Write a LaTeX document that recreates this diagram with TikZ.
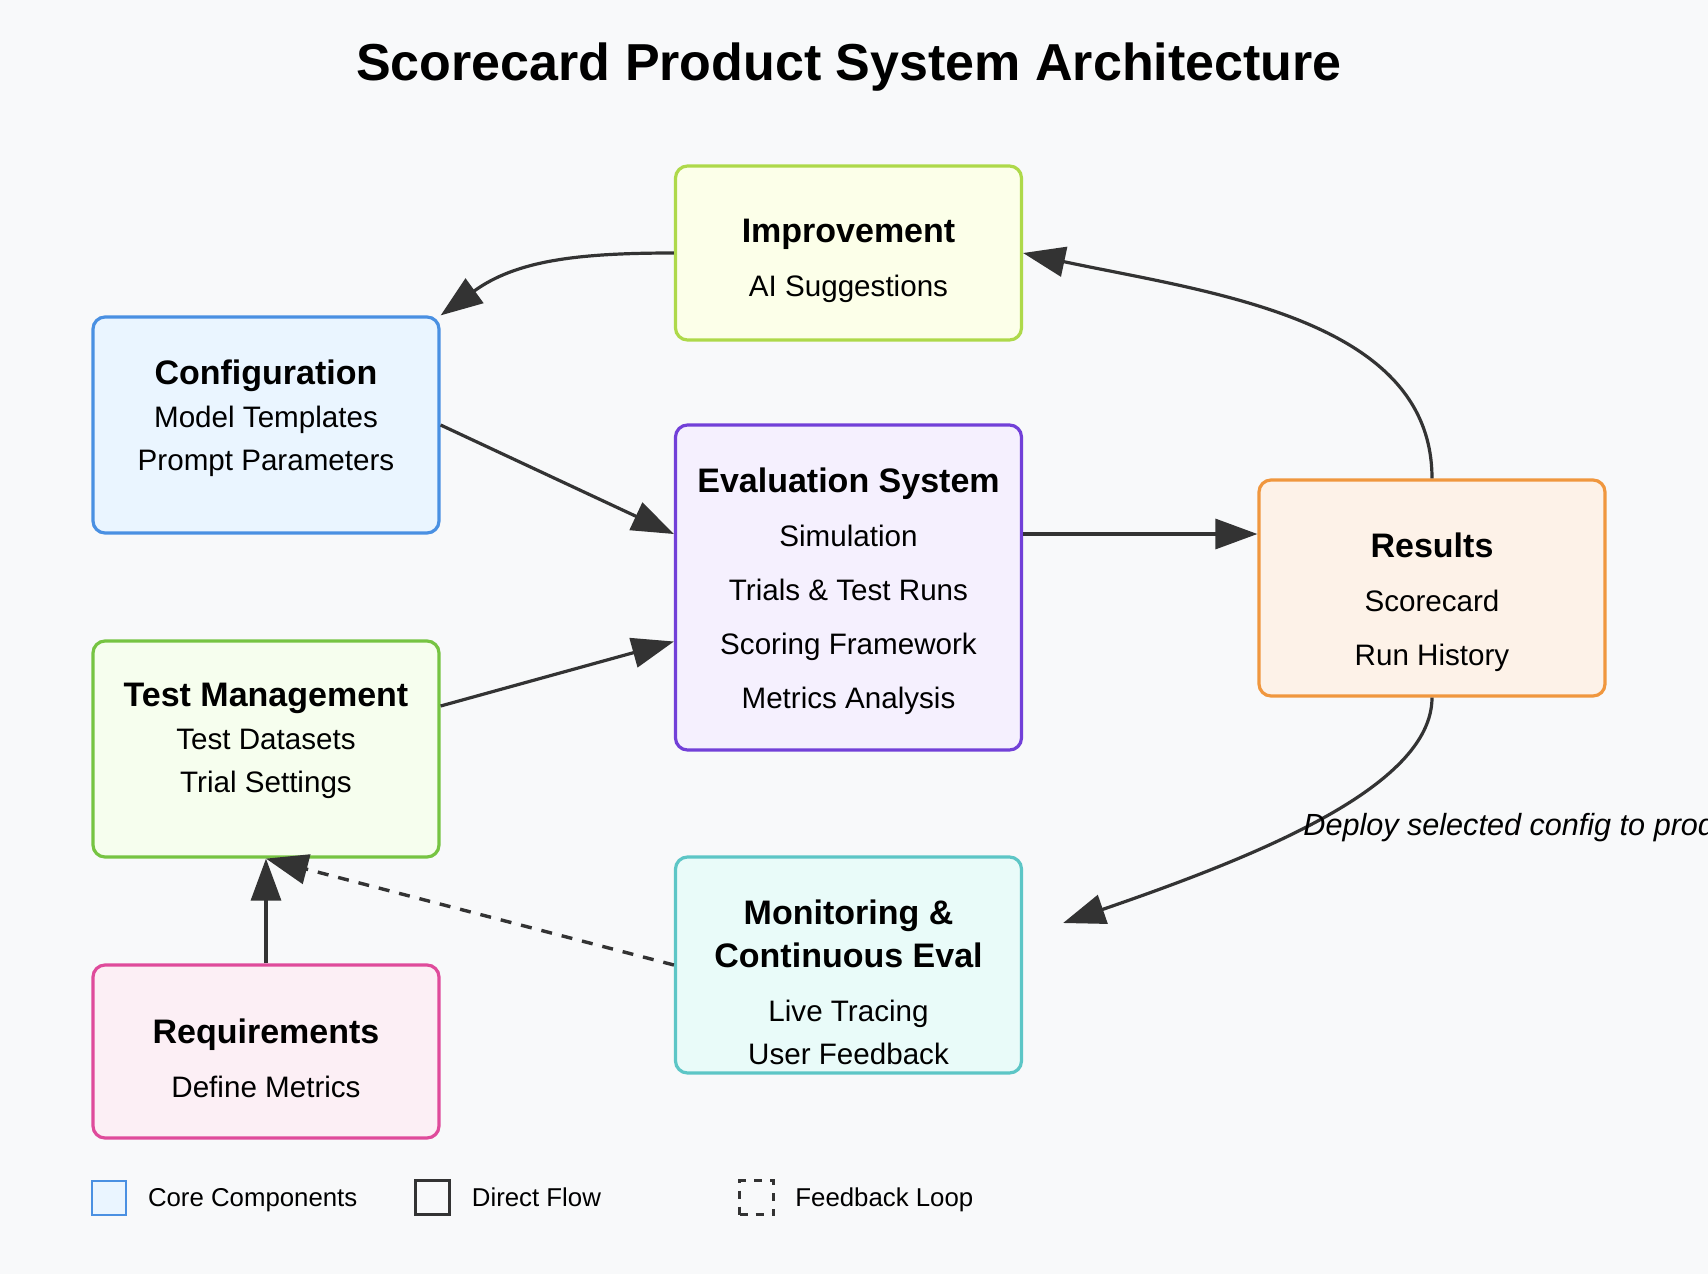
\documentclass[tikz,border=0pt]{standalone}
\usepackage{fontspec}
\setmainfont{Liberation Sans}
\usetikzlibrary{arrows.meta}

\definecolor{bgc}{HTML}{F8F9FA}
\definecolor{linec}{HTML}{333333}
\definecolor{cfgline}{HTML}{4A90E2}  \definecolor{cfgfill}{HTML}{EAF5FF}
\definecolor{imprline}{HTML}{AED94A} \definecolor{imprfill}{HTML}{FCFFE9}
\definecolor{evalline}{HTML}{7240D8} \definecolor{evalfill}{HTML}{F5F0FE}
\definecolor{resline}{HTML}{F0973E}  \definecolor{resfill}{HTML}{FDF2E8}
\definecolor{testline}{HTML}{76C442} \definecolor{testfill}{HTML}{F6FEEE}
\definecolor{monline}{HTML}{5DC6C6}  \definecolor{monfill}{HTML}{E9FBF9}
\definecolor{reqline}{HTML}{DF4B9B}  \definecolor{reqfill}{HTML}{FCEFF5}

\newcommand{\boxhead}[1]{{\bfseries\fontsize{17}{21.5}\selectfont #1}}

\tikzset{
  compbox/.style={draw=#1line, fill=#1fill, line width=1.6pt, rounded corners=6pt,
    minimum width=173pt, inner sep=0pt},
  boxtxt/.style={align=center, inner sep=0pt, anchor=north,
    font=\fontsize{14.8}{21.5}\selectfont},
  flow/.style={draw=linec, line width=1.6pt, -{Triangle[length=21pt,width=15pt]}},
  fback/.style={flow, line width=1.7pt, dash pattern=on 5.5pt off 5pt},
  legtxt/.style={anchor=base west, inner sep=0pt, font=\fontsize{12.9}{15}\selectfont},
}

\begin{document}
\begin{tikzpicture}[x=0.5pt, y=-0.5pt]
    % page and background
    \clip (0,0) rectangle (1708,1274);
    \fill[bgc] (0,0) rectangle (1708,1274);

    % Title
    \node[anchor=base, font=\bfseries\fontsize{26}{30}\selectfont] (title) at (849,80)
        {Scorecard Product System Architecture};

    % Components
    \node[compbox=impr, minimum height=87pt] (impr) at (848.5,253) {};
    \node[boxtxt] (impr-t) at (848.5,219) {\boxhead{Improvement}\\[5.5pt] AI Suggestions};

    \node[compbox=cfg, minimum height=108pt] (cfg) at (266,425) {};
    \node[boxtxt] (cfg-t) at (266,359) {\boxhead{Configuration}\\ Model Templates\\ Prompt Parameters};

    \node[compbox=eval, minimum height=162.5pt] (eval) at (848.5,587.5) {};
    \node[boxtxt] (eval-t) at (848.5,467) {\boxhead{Evaluation System}\\[5.5pt] Simulation\\[5.5pt]
        Trials \& Test Runs\\[5.5pt] Scoring Framework\\[5.5pt] Metrics Analysis};

    \node[compbox=res, minimum height=108pt] (res) at (1432,588) {};
    \node[boxtxt] (res-t) at (1432,532) {\boxhead{Results}\\[5.5pt] Scorecard\\[5.5pt] Run History};

    \node[compbox=test, minimum height=108pt] (test) at (266,749) {};
    \node[boxtxt] (test-t) at (266,683) {\boxhead{Test Management}\\ Test Datasets\\ Trial Settings};

    \node[compbox=mon, minimum height=108pt] (mon) at (848.5,965) {};
    \node[boxtxt] (mon-t) at (848.5,899) {\boxhead{Monitoring \&}\\ \boxhead{Continuous Eval}\\[5.5pt]
        Live Tracing\\ User Feedback};

    \node[compbox=req, minimum height=86.5pt] (req) at (266,1051.5) {};
    \node[boxtxt] (req-t) at (266,1018) {\boxhead{Requirements}\\[5.5pt] Define Metrics};

    % Direct flow
    \draw[flow] (impr.west) to[out=180, in=36] (cfg.north east);
    \draw[flow] (cfg.east) -- ([yshift=26.75pt]eval.west);
    \draw[flow] ([yshift=21.5pt]test.east) -- ([yshift=-27pt]eval.west);
    \draw[flow] ([yshift=26.75pt]eval.east) -- ([yshift=27pt]res.west);
    \draw[flow] (res.north) to[out=90, in=-12, out distance=80pt, in distance=95pt] (impr.east);
    \draw[flow] (res.south) to[out=-90, in=19, out distance=45pt, in distance=100pt]
        ([xshift=20pt,yshift=21pt]mon.east);
    \draw[flow] (req.north) -- (test.south);
    \node[anchor=base west, inner sep=0pt, font=\itshape\fontsize{15.3}{18}\selectfont]
        (deploy) at (1303,835) {Deploy selected config to prod};

    % Feedback loop
    \draw[fback] (mon.west) -- (test.south);

    % Legend
    \node[draw=cfgline, fill=cfgfill, line width=1pt, minimum size=17pt, inner sep=0pt] (lg-core) at (109,1197.5) {};
    \node[legtxt] (lg-core-t) at (147.6,1206) {Core Components};
    \node[draw=linec, line width=1.5pt, minimum size=17pt, inner sep=0pt] (lg-flow) at (432.5,1197.5) {};
    \node[legtxt] (lg-flow-t) at (471.5,1206) {Direct Flow};
    \node[draw=linec, line width=1.5pt, dash pattern=on 4pt off 4pt, minimum size=17pt, inner sep=0pt] (lg-fb) at (756.5,1197.5) {};
    \node[legtxt] (lg-fb-t) at (795,1206) {Feedback Loop};
\end{tikzpicture}
\end{document}
